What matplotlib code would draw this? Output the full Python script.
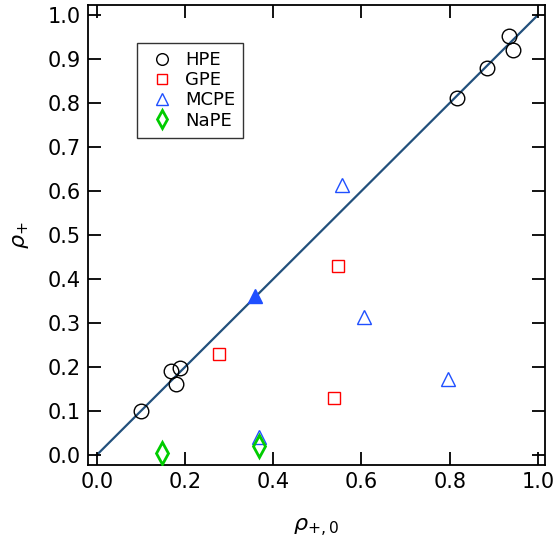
import matplotlib
matplotlib.use("Agg")
import matplotlib.pyplot as plt
import numpy as np

hpe_x = [0.10, 0.168, 0.179, 0.188, 0.816, 0.884, 0.934, 0.943]
hpe_y = [0.10, 0.19, 0.161, 0.198, 0.811, 0.88, 0.952, 0.92]
gpe_x = [0.277, 0.546, 0.537]
gpe_y = [0.23, 0.43, 0.13]
mcpe_x = [0.556, 0.605, 0.796, 0.367]
mcpe_y = [0.614, 0.314, 0.173, 0.041]
mcpe_fill_x = [0.358]
mcpe_fill_y = [0.361]
nape_x = [0.147, 0.367]
nape_y = [0.005, 0.02]
line_x = [0.0, 1.0]
line_y = [0.0, 1.0]

fig = plt.figure(figsize=(5.53, 5.44), dpi=100)
ax = fig.add_axes([0.159, 0.145, 0.8265, 0.846])

ax.plot(line_x, line_y, color='#22507c', lw=1.6, zorder=1)
ax.plot(hpe_x, hpe_y, 'o', mfc='none', mec='black', ms=10.5, mew=1.0, label='HPE', zorder=3)
ax.plot(gpe_x, gpe_y, 's', mfc='none', mec='red', ms=9, mew=1.0, label='GPE', zorder=3)
ax.plot(mcpe_x, mcpe_y, '^', mfc='none', mec='#1f4fff', ms=10, mew=1.0, label='MCPE', zorder=3)
ax.plot(mcpe_fill_x, mcpe_fill_y, '^', mfc='#1f4fff', mec='#1f4fff', ms=10, mew=1.0, zorder=3)
ax.plot(nape_x, nape_y, 'd', mfc='none', mec='#00cc00', ms=11, mew=2.0, label='NaPE', zorder=3)

ax.set_xlim(-0.02, 1.016)
ax.set_ylim(-0.023, 1.023)
ax.set_xticks(np.arange(0, 1.01, 0.2))
ax.set_yticks(np.arange(0, 1.01, 0.1))
ax.set_xticklabels([f"{v:.1f}" for v in np.arange(0, 1.01, 0.2)])
ax.set_yticklabels([f"{v:.1f}" for v in np.arange(0, 1.01, 0.1)])
for s in ax.spines.values():
    s.set_linewidth(1.3)
ax.tick_params(direction='in', length=9.5, width=1.3, top=True, right=True, labelsize=15, pad=5)
ax.set_xlabel(r'$\rho_{+,0}$', fontsize=16, labelpad=18)
ax.set_ylabel(r'$\rho_{+}$', fontsize=16, labelpad=12)

leg = ax.legend(loc='upper left', bbox_to_anchor=(0.088, 0.937), fontsize=13, frameon=True,
                fancybox=False, edgecolor='black', handletextpad=0.4, borderpad=0.45,
                labelspacing=0.12, numpoints=1, markerscale=0.8, handlelength=1.8)
leg.get_frame().set_linewidth(1.0)

fig.savefig('out.png', dpi=100)
